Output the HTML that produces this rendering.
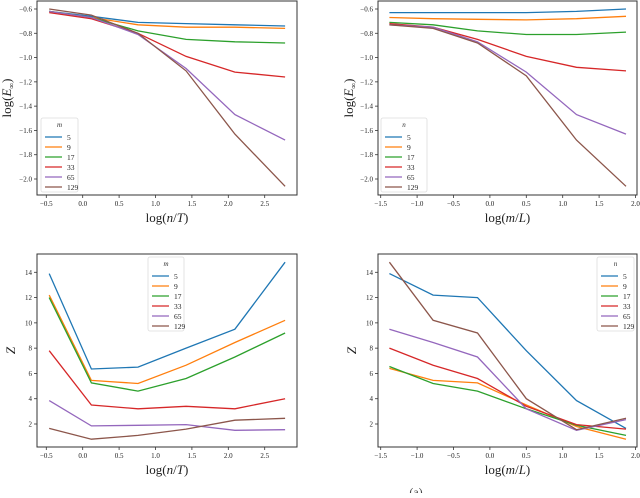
<!DOCTYPE html>
<html><head><meta charset="utf-8"><style>
body{margin:0;background:#fff;width:640px;height:493px;overflow:hidden}
svg text{font-family:"Liberation Serif","DejaVu Serif",serif}
</style></head><body>
<svg id="fig" width="640" height="493" viewBox="0 0 640 493" xmlns="http://www.w3.org/2000/svg"></svg>
<script>
const colors=["#1f77b4","#ff7f0e","#2ca02c","#d62728","#9467bd","#8c564b"];
const seriesLabels=["5","9","17","33","65","129"];
const xNT=[-0.46,0.12,0.76,1.42,2.09,2.78];
const xML=[-1.38,-0.78,-0.17,0.5,1.19,1.87];
const eNT5=[-0.62,-0.66,-0.71,-0.72,-0.73,-0.74];
const eNT9=[-0.62,-0.67,-0.73,-0.75,-0.75,-0.76];
const eNT17=[-0.62,-0.67,-0.78,-0.85,-0.87,-0.88];
const eNT33=[-0.63,-0.68,-0.80,-0.99,-1.12,-1.16];
const eNT65=[-0.62,-0.67,-0.81,-1.09,-1.47,-1.68];
const eNT129=[-0.60,-0.65,-0.80,-1.11,-1.63,-2.06];
const eML5=[-0.63,-0.63,-0.63,-0.63,-0.62,-0.60];
const eML9=[-0.67,-0.68,-0.685,-0.69,-0.68,-0.66];
const eML17=[-0.71,-0.73,-0.78,-0.81,-0.81,-0.79];
const eML33=[-0.72,-0.75,-0.85,-0.99,-1.08,-1.11];
const eML65=[-0.73,-0.75,-0.87,-1.12,-1.47,-1.63];
const eML129=[-0.73,-0.76,-0.88,-1.15,-1.68,-2.06];
const zNT5=[13.9,6.35,6.5,8.0,9.5,14.8];
const zNT9=[12.2,5.45,5.2,6.65,8.45,10.2];
const zNT17=[12.0,5.25,4.6,5.6,7.3,9.2];
const zNT33=[7.8,3.5,3.2,3.4,3.2,4.0];
const zNT65=[3.85,1.85,1.9,1.95,1.5,1.55];
const zNT129=[1.65,0.8,1.1,1.6,2.3,2.45];
const zML5=[13.9,12.2,12.0,7.8,3.85,1.65];
const zML9=[6.4,5.45,5.25,3.5,1.8,0.8];
const zML17=[6.55,5.2,4.6,3.2,1.9,1.1];
const zML33=[8.0,6.65,5.6,3.4,1.95,1.6];
const zML65=[9.5,8.45,7.3,3.2,1.5,2.35];
const zML129=[14.8,10.2,9.2,4.0,1.55,2.45];
const xTicksNT=[-0.5,0,0.5,1,1.5,2,2.5];
const xTicksML=[-1.5,-1,-0.5,0,0.5,1,1.5,2];
const yTicksE=[-0.6,-0.8,-1.0,-1.2,-1.4,-1.6,-1.8,-2.0];
const yTicksZ=[2,4,6,8,10,12,14];

const NS="http://www.w3.org/2000/svg";
const svg=document.getElementById('fig');
function mk(tag,attrs,parent){const e=document.createElementNS(NS,tag);for(const k in attrs)e.setAttribute(k,attrs[k]);(parent||svg).appendChild(e);return e;}
function fmt(v,dec){let s=v.toFixed(dec);if(v<0)s='\u2212'+(-v).toFixed(dec);return s;}

function panel(o){
  const g=mk('g',{});
  
  
  const sx=v=>o.px0+(v-o.x0)*o.kx, sy=v=>o.py0+(v-o.y0)*o.ky;
  o.series.forEach((ys,i)=>{
    const pts=o.xs.map((x,j)=>sx(x).toFixed(1)+','+sy(ys[j]).toFixed(1)).join(' ');
    const pl=mk('polyline',{points:pts,fill:'none',stroke:colors[i],'stroke-width':1.3},g);
    
    
  });
  const fr=mk('rect',{x:o.L,y:o.T,width:o.R-o.L,height:o.B-o.T,fill:'none',stroke:'#333','stroke-width':1},g);
  
  
  o.xt.forEach(v=>{const x=sx(v);mk('line',{x1:x,x2:x,y1:o.B,y2:o.B+3,stroke:'#333','stroke-width':0.8},g);
    const t=mk('text',{x:x,y:o.B+11,'font-size':7,'text-anchor':'middle',fill:'#222'},g);t.textContent=fmt(v,1);
    });
  o.yt.forEach(v=>{const y=sy(v);mk('line',{x1:o.L-3,x2:o.L,y1:y,y2:y,stroke:'#333','stroke-width':0.8},g);
    const t=mk('text',{x:o.L-5,y:y+2.5,'font-size':7,'text-anchor':'end',fill:'#222'},g);t.textContent=o.ydec?fmt(v,1):String(v);
    });
  const xl=mk('text',{x:(o.L+o.R)/2,y:o.B+27,'font-size':13,'text-anchor':'middle',fill:'#222'},g);
  xl.innerHTML=o.xlab;
  
  const yl=mk('text',{x:0,y:0,'font-size':13,'text-anchor':'middle',fill:'#222',transform:`translate(${o.ylx},${(o.T+o.B)/2}) rotate(-90)`},g);
  yl.innerHTML=o.ylab;
  
  const lg=mk('g',{},g);
  
  mk('rect',{x:o.lx,y:o.ly,width:o.lw,height:74,rx:2,fill:'#fff',stroke:'#ddd','stroke-width':0.8},lg);
  const tt=mk('text',{x:o.lx+o.lw/2,y:o.ly+9,'font-size':7,'font-style':'italic','text-anchor':'middle',fill:'#333'},lg);tt.textContent=o.legTitle;
  seriesLabels.forEach((s,i)=>{const y=o.ly+19+i*10;
    const e=mk('g',{},lg);
    
    mk('line',{x1:o.lx+4,x2:o.lx+21,y1:y,y2:y,stroke:colors[i],'stroke-width':1.3},e);
    const t=mk('text',{x:o.lx+26,y:y+3,'font-size':7.5,fill:'#222','font-family':'Liberation Sans, sans-serif'},e);t.textContent=s;});
}
const kx=72.8, kyE=-170/1.4, kyZ=-151.7/12;
panel({name:'panel-error-vs-n',L:37,R:297,T:1,B:195,xs:xNT,series:[eNT5,eNT9,eNT17,eNT33,eNT65,eNT129],
  x0:-0.5,px0:46.3,kx:kx,y0:-0.6,py0:9,ky:kyE,xt:xTicksNT,yt:yTicksE,ydec:true,
  xlab:'log(<tspan font-style="italic">n</tspan>/<tspan font-style="italic">T</tspan>)',ylab:'log(<tspan font-style="italic">E</tspan><tspan font-size="8" dy="3">∞</tspan><tspan dy="-3">)</tspan>',ylx:11,
  lx:41,ly:118,lw:37,legTitle:'m'});
panel({name:'panel-error-vs-m',L:378,R:637,T:1,B:195,xs:xML,series:[eML5,eML9,eML17,eML33,eML65,eML129],
  x0:-1.5,px0:380.7,kx:kx,y0:-0.6,py0:9,ky:kyE,xt:xTicksML,yt:yTicksE,ydec:true,
  xlab:'log(<tspan font-style="italic">m</tspan>/<tspan font-style="italic">L</tspan>)',ylab:'log(<tspan font-style="italic">E</tspan><tspan font-size="8" dy="3">∞</tspan><tspan dy="-3">)</tspan>',ylx:353,
  lx:381,ly:118,lw:46,legTitle:'n'});
panel({name:'panel-z-vs-n',L:37,R:297,T:254,B:447,xs:xNT,series:[zNT5,zNT9,zNT17,zNT33,zNT65,zNT129],
  x0:-0.5,px0:46.3,kx:kx,y0:14,py0:272.3,ky:kyZ,xt:xTicksNT,yt:yTicksZ,ydec:false,
  xlab:'log(<tspan font-style="italic">n</tspan>/<tspan font-style="italic">T</tspan>)',ylab:'<tspan font-style="italic">Z</tspan>',ylx:15,
  lx:148,ly:257,lw:36,legTitle:'m'});
panel({name:'panel-z-vs-m',L:378,R:637,T:254,B:447,xs:xML,series:[zML5,zML9,zML17,zML33,zML65,zML129],
  x0:-1.5,px0:380.7,kx:kx,y0:14,py0:272.3,ky:kyZ,xt:xTicksML,yt:yTicksZ,ydec:false,
  xlab:'log(<tspan font-style="italic">m</tspan>/<tspan font-style="italic">L</tspan>)',ylab:'<tspan font-style="italic">Z</tspan>',ylx:356,
  lx:597,ly:257,lw:37,legTitle:'n'});
const cap=mk('text',{x:416,y:496,'font-size':12,'text-anchor':'middle',fill:'#444'});
cap.textContent='(a)';


</script>
</body></html>
